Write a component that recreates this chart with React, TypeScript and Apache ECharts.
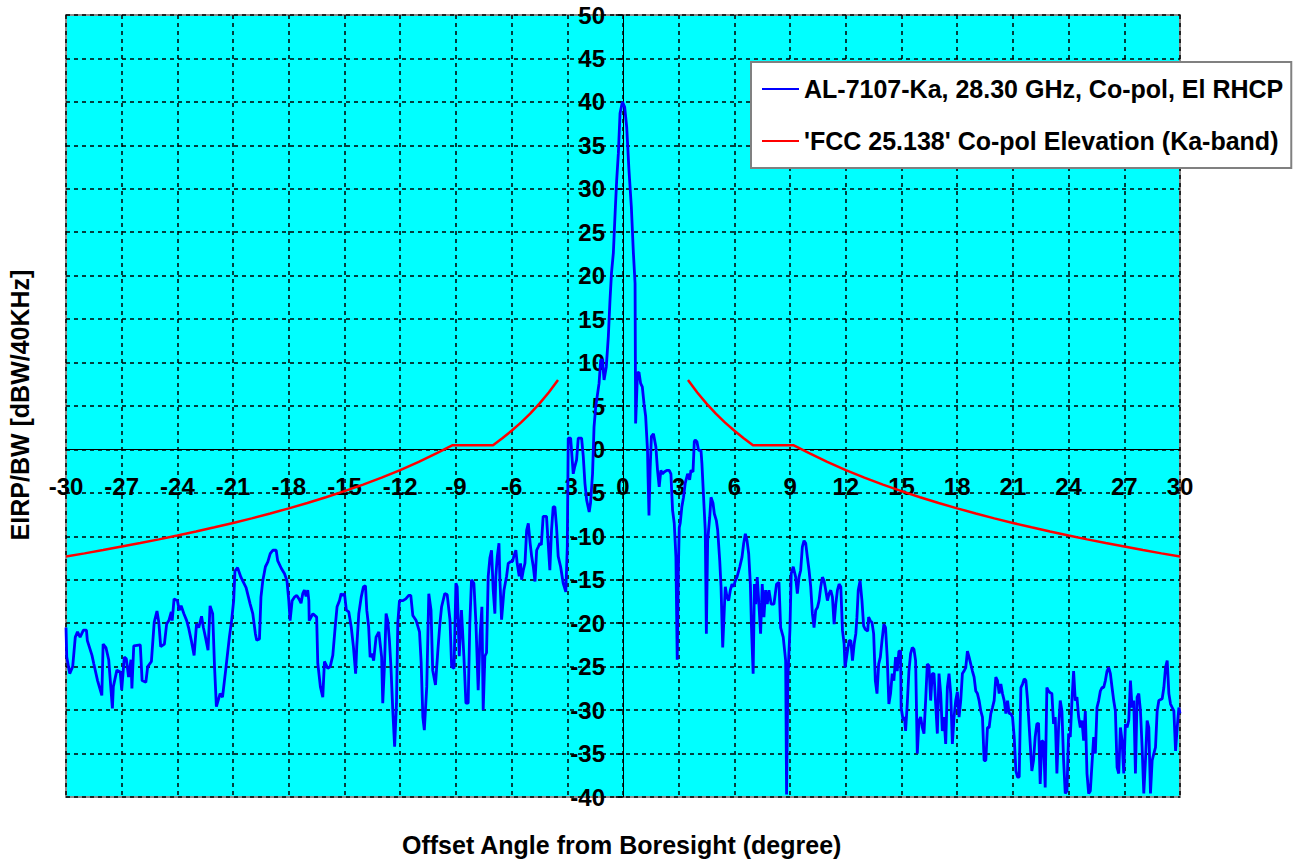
import React, { useEffect, useRef } from "react";
import * as echarts from "echarts";

// ---- Data ----
const xTicks = { min: -30, max: 30, interval: 3 };
const yTicks = { min: -40, max: 50, interval: 5 };

const seriesNames = [
  "AL-7107-Ka, 28.30 GHz, Co-pol, El RHCP",
  "'FCC 25.138' Co-pol Elevation (Ka-band)",
];

// Measured co-pol pattern, left sidelobes (deg, dBW/40kHz)
const leftFarSidelobes: [number, number][] = [
  [-30, -20.5], [-29.96, -23.9], [-29.8, -25.8], [-29.64, -25], [-29.5, -21.6], [-29.38, -21.0], [-29.24, -21.6],
  [-29.06, -20.8], [-28.9, -20.8], [-28.85, -22], [-28.6, -23.7], [-28.5, -24.7], [-28.3, -26.6], [-28.07, -28.3],
  [-28.0, -22.4], [-27.85, -22.8], [-27.7, -24.2], [-27.5, -29.8], [-27.45, -27.3], [-27.26, -25.4], [-27.08, -25.6],
  [-27.0, -27.7], [-26.86, -23.9], [-26.75, -24.1], [-26.63, -26.2], [-26.5, -24.2], [-26.45, -27.5], [-26.35, -22.6],
  [-26.0, -22.5], [-25.9, -26.6], [-25.7, -26.8], [-25.6, -25], [-25.4, -24.4], [-25.25, -19.9], [-25.1, -18.6],
  [-25.0, -19.9], [-24.9, -22.7], [-24.7, -22.4], [-24.58, -20.1], [-24.46, -19.7], [-24.33, -18.7], [-24.28, -19.7],
  [-24.18, -17.2], [-24.0, -17.4], [-23.9, -18.5], [-23.8, -18], [-23.65, -18.9], [-23.5, -19.7], [-23.4, -20.5],
  [-23.25, -22], [-23.1, -23.7], [-22.97, -20.1], [-22.85, -20.5], [-22.7, -19.2], [-22.6, -20.5], [-22.47, -21.8],
  [-22.35, -23.1], [-22.24, -18], [-22.1, -18.9], [-22.0, -25], [-21.9, -29.6], [-21.7, -28.1], [-21.57, -28.5],
  [-21.4, -25.4], [-21.2, -21.6], [-21.08, -19.7], [-20.97, -17.4], [-20.9, -14], [-20.76, -13.6], [-20.58, -14.7],
  [-20.3, -15.9], [-20.08, -17.8],
];

const leftMidSidelobes: [number, number][] = [
  [-19.94, -18.9], [-19.8, -21.2], [-19.73, -21.95], [-19.58, -21.8], [-19.5, -17], [-19.4, -15.1], [-19.26, -13.5],
  [-19.13, -12.95], [-19.0, -12], [-18.86, -11.6], [-18.68, -11.6], [-18.6, -12.8], [-18.4, -13.7], [-18.23, -14.3],
  [-18.1, -15.1], [-18.0, -17.4], [-17.93, -19.7], [-17.82, -17.4], [-17.7, -17], [-17.57, -16.8], [-17.45, -17.2],
  [-17.34, -17.7], [-17.25, -16.6], [-17.16, -16.2], [-17.07, -16.9], [-16.98, -16.2], [-16.92, -17.4], [-16.9, -19.7],
  [-16.7, -18.9], [-16.5, -19.3], [-16.44, -24.6], [-16.3, -27.3], [-16.17, -28.5], [-16.08, -24.4], [-15.9, -25.2],
  [-15.77, -25], [-15.63, -23.7], [-15.5, -20.4], [-15.4, -18.1], [-15.27, -17.4], [-15.18, -16.6], [-15.1, -16.8],
  [-15.0, -16.6], [-14.9, -18.5], [-14.77, -18.7], [-14.64, -20.4], [-14.52, -22.7], [-14.4, -25.8], [-14.34, -22.7],
  [-14.23, -18.9], [-14.1, -17], [-13.98, -15.8], [-13.87, -15.7], [-13.8, -18.5], [-13.7, -20.4], [-13.62, -23.9],
  [-13.52, -23.5], [-13.43, -24.3], [-13.3, -21.6], [-13.15, -21], [-13.0, -23.9], [-12.94, -29.2], [-12.85, -25],
  [-12.76, -18.9], [-12.67, -19.7], [-12.58, -22], [-12.5, -25], [-12.4, -30], [-12.3, -34.2], [-12.2, -29.2],
  [-12.13, -20], [-12.04, -17.4], [-11.85, -17.4], [-11.7, -17.2], [-11.54, -16.8], [-11.43, -16.8], [-11.32, -19.1],
  [-11.14, -19.7], [-10.96, -21], [-10.87, -24.6], [-10.78, -30.8], [-10.7, -32.3], [-10.57, -27.3], [-10.46, -16.6],
  [-10.34, -18.5], [-10.25, -25.4], [-10.1, -27.1], [-9.97, -23.1],
];

const leftNearSidelobes: [number, number][] = [
  [-9.86, -20], [-9.77, -18.1], [-9.6, -16.6], [-9.47, -16.7], [-9.32, -19.6], [-9.23, -25], [-9.1, -25.2],
  [-9.0, -15.4], [-8.93, -15.8], [-8.82, -23.8], [-8.7, -18.5], [-8.57, -23.8], [-8.46, -29.2], [-8.34, -29.2],
  [-8.25, -20], [-8.16, -15], [-8.03, -15.4], [-7.92, -20], [-7.8, -27.7], [-7.7, -21.5], [-7.6, -18.1],
  [-7.53, -30], [-7.44, -23.8], [-7.35, -23.4], [-7.26, -14.6], [-7.17, -12.5], [-7.08, -11.6], [-6.99, -16.2],
  [-6.9, -18.9], [-6.85, -14.6], [-6.77, -12.3], [-6.68, -10.8], [-6.63, -15], [-6.54, -19.6], [-6.41, -16.2],
  [-6.27, -14.6], [-6.18, -13.1], [-6.05, -12.9], [-5.95, -12.9], [-5.88, -12.3], [-5.77, -11.6], [-5.7, -13.1],
  [-5.59, -14.6], [-5.52, -13.1], [-5.46, -15], [-5.37, -13.9], [-5.28, -13.1], [-5.19, -9.3], [-5.1, -8.5],
  [-5.0, -10.8], [-4.92, -12.3], [-4.83, -13.5], [-4.74, -15.2], [-4.65, -11.6], [-4.56, -11.2], [-4.48, -10.8],
  [-4.4, -11.0], [-4.3, -7.7], [-4.2, -7.7], [-4.12, -7.7], [-4.03, -10.8], [-3.94, -13.9], [-3.85, -9.3],
  [-3.76, -6.6], [-3.67, -6.6], [-3.58, -8.9], [-3.49, -12.3], [-3.36, -13.5], [-3.22, -15.4], [-3.08, -16.4],
  [-3.0, -11.2], [-2.95, 1.3], [-2.82, 1.3], [-2.68, -2.8], [-2.6, -2], [-2.5, -1.2], [-2.41, 1.3], [-2.23, 1.3],
  [-2.14, -0.8], [-2.05, -3.9], [-1.96, -5.8], [-1.82, -7.2], [-1.75, -6.2], [-1.64, -2.8],
];

const mainLobe: [number, number][] = [
  [-1.56, 2.6], [-1.47, 4.9], [-1.29, 7.6], [-1.2, 10.3], [-1.11, 10.3], [-1.02, 8.0], [-0.9, 9.5], [-0.79, 13],
  [-0.7, 17.2], [-0.62, 20.3], [-0.52, 22.6], [-0.41, 27.9], [-0.34, 31], [-0.25, 34.1], [-0.16, 38.7], [-0.03, 40],
  [0.09, 39.4], [0.2, 37.1], [0.32, 32.2], [0.45, 27.9], [0.56, 22.6], [0.65, 19.1], [0.68, 3.0], [0.78, 8.8],
  [0.86, 8.9], [0.95, 7.6], [1.04, 7.2], [1.13, 5.3], [1.22, 3.8], [1.32, -0.1], [1.35, -3.2], [1.4, -7.6],
  [1.46, -2.4], [1.53, 1.5], [1.64, 1.8], [1.77, 0.3], [1.86, -2.4], [1.95, -4.3], [2.04, -2.4], [2.13, -2.8],
  [2.22, -2.6], [2.36, -2.4], [2.49, -2.4], [2.58, -2.8], [2.67, -7], [2.76, -8.5], [2.85, -12.4], [2.92, -24.2],
  [2.98, -14], [3.03, -9],
];

const rightNearSidelobes: [number, number][] = [
  [3.08, -8.5], [3.17, -6.6], [3.26, -5.5], [3.35, -3.9], [3.48, -2.8], [3.59, -3.5], [3.66, -2.4], [3.77, -2.6],
  [3.84, 0.9], [3.89, 1.1], [3.98, 0.9], [4.07, -0.1], [4.2, -0.1], [4.25, -1.6], [4.34, -5.5], [4.43, -9.3],
  [4.49, -21.2], [4.56, -10.5], [4.67, -7.8], [4.74, -5.5], [4.85, -6.2], [4.92, -7.4], [5.03, -8.2], [5.1, -9.3],
  [5.21, -12.8], [5.28, -15.8], [5.37, -22.8], [5.46, -18.2], [5.51, -15.8], [5.6, -17], [5.69, -17.4], [5.78, -16.2],
  [5.87, -15.5], [5.96, -15.8], [6.05, -15.1], [6.14, -14.7], [6.29, -13.5], [6.41, -12.4], [6.5, -10.8], [6.59, -9.7],
  [6.68, -10.5], [6.77, -12], [6.86, -15.5], [6.92, -20.5], [7.01, -25.8], [7.08, -15.5], [7.15, -17.8], [7.23, -14.7],
  [7.32, -17.8], [7.41, -21.2], [7.5, -15.5], [7.59, -19.3], [7.68, -16.2], [7.77, -17.8], [7.86, -16.2], [7.98, -17.8],
  [8.13, -17.8], [8.27, -15.5], [8.4, -15.3], [8.49, -20.5], [8.63, -21.6], [8.76, -24.3], [8.81, -39.7], [8.88, -26.2],
  [8.99, -20.8], [9.06, -14.3], [9.17, -13.5], [9.3, -14.7], [9.39, -16.6], [9.48, -14.7], [9.57, -13.9], [9.66, -11.2],
  [9.75, -10.5], [9.84, -10.8], [9.93, -12.4], [10.02, -13.9], [10.11, -15.8], [10.2, -18.9], [10.29, -20.5],
  [10.38, -18.5], [10.47, -18.2], [10.56, -17.4], [10.65, -15.8], [10.74, -14.7], [10.83, -15.1], [10.92, -16.2],
  [11.01, -17.4], [11.1, -16.6], [11.19, -16.2], [11.28, -17], [11.37, -20.1], [11.46, -17.8], [11.55, -16.2],
  [11.64, -15.5], [11.73, -15.8], [11.82, -20.8], [11.91, -22.4], [11.96, -25.1], [12.09, -23.2], [12.18, -22],
  [12.27, -22], [12.36, -24.3], [12.45, -22.4], [12.54, -21.2], [12.6, -19.3], [12.67, -16.2], [12.77, -15.1],
];

const rightMidSidelobes: [number, number][] = [
  [12.87, -17.4], [12.96, -20.3], [13.05, -20.7], [13.18, -20.9], [13.23, -19.3], [13.32, -19.7], [13.41, -19.9],
  [13.5, -21.2], [13.59, -26.6], [13.68, -28.1], [13.77, -24.7], [13.86, -23.9], [13.95, -22], [14.05, -20.1],
  [14.14, -20.5], [14.23, -23.9], [14.32, -29.3], [14.41, -28.1], [14.5, -25.8], [14.59, -26.6], [14.68, -23.9],
  [14.77, -25.5], [14.86, -23.2], [14.95, -23.2], [14.98, -29.7], [15.09, -31.2], [15.16, -30.8], [15.22, -32.4],
  [15.31, -29.3], [15.4, -25.5], [15.49, -23.5], [15.58, -22.8], [15.67, -23], [15.76, -24.3], [15.85, -35],
  [15.94, -31.2], [16.03, -30.8], [16.12, -32], [16.21, -32.7], [16.3, -28.9], [16.39, -24.7], [16.48, -24.9],
  [16.57, -28.9], [16.66, -25.8], [16.75, -25.8], [16.84, -29.3], [16.93, -32.7], [17.02, -25.8], [17.11, -28.1],
  [17.2, -32.4], [17.29, -30.8], [17.38, -33.9], [17.47, -27.4], [17.56, -25.8], [17.65, -28.1], [17.74, -33.9],
  [17.83, -30.8], [17.92, -28.9], [18.01, -27.9], [18.1, -30.8], [18.19, -28.9], [18.28, -25.8], [18.37, -25.5],
  [18.46, -25.1], [18.55, -23.2], [18.64, -23.9], [18.73, -24.7], [18.82, -25.5], [18.91, -26.2], [19.0, -27.8],
  [19.09, -28.1], [19.18, -28.9], [19.27, -30.1], [19.36, -30.8], [19.45, -35.8], [19.54, -35.8], [19.63, -32],
  [19.72, -32], [19.81, -30.4], [19.9, -29.7], [19.99, -28.9], [20.08, -26.2], [20.17, -26.6], [20.26, -28.1],
  [20.35, -27], [20.44, -28.1], [20.53, -28.9], [20.62, -30.4], [20.71, -28.9], [20.8, -30.4], [20.89, -30.4],
  [20.98, -30.8], [21.07, -33.1], [21.16, -37], [21.25, -37.7], [21.34, -37.7], [21.43, -27.4], [21.52, -27],
  [21.61, -26.4], [21.7, -26.6], [21.79, -28.9], [21.88, -32],
];

const rightFarSidelobes: [number, number][] = [
  [22.02, -37], [22.11, -35.8], [22.2, -33.1], [22.29, -31.6], [22.38, -31.5], [22.47, -38.5], [22.56, -33.5],
  [22.65, -33.7], [22.74, -38.9], [22.83, -27.4], [22.92, -27.8], [23.01, -28], [23.1, -28.1], [23.19, -31.6],
  [23.28, -30.8], [23.37, -37.3], [23.46, -32], [23.55, -28.9], [23.64, -30.1], [23.73, -35.8], [23.82, -39.6],
  [23.91, -39.3], [24.0, -32.7], [24.09, -33.1], [24.18, -28.9], [24.27, -25.5], [24.36, -28.9], [24.45, -28.5],
  [24.54, -30.8], [24.63, -32], [24.72, -31.2], [24.81, -33.5], [24.9, -30.1], [24.99, -37.3], [25.08, -39.6],
  [25.17, -39.3], [25.26, -36.2], [25.35, -33.1], [25.44, -35], [25.53, -29.7], [25.62, -28.9], [25.71, -27.8],
  [25.8, -27.4], [25.89, -27.4], [25.98, -26.6], [26.07, -25.5], [26.16, -25.1], [26.25, -25.8], [26.34, -27.4],
  [26.43, -28.9], [26.52, -30.1], [26.61, -36.6], [26.7, -37.3], [26.79, -32], [26.88, -33.5], [26.97, -37.3],
  [27.06, -31.6], [27.15, -32], [27.24, -31.2], [27.33, -26.6], [27.42, -29.7], [27.51, -28.9], [27.6, -37.3],
  [27.69, -28.5], [27.78, -28.1], [27.87, -30.1], [27.96, -34.3], [28.05, -39.6], [28.14, -35.8], [28.23, -31.2],
  [28.32, -32], [28.41, -39.6], [28.5, -35.8], [28.59, -35], [28.68, -34.3], [28.77, -30.1], [28.86, -28.9],
  [29.04, -28.7], [29.13, -27.4], [29.22, -25.1], [29.31, -24.3], [29.4, -28.1], [29.49, -29.3], [29.58, -29.7],
  [29.67, -30.1], [29.76, -34.7], [29.85, -32], [29.94, -29.7], [30.0, -30.4],
];

// FCC 25.138 elevation co-pol mask, as drawn (deg, dBW/40kHz)
const maskLeftAngles = [-30, -29, -28, -27, -26, -25, -24, -23, -22, -21, -20, -19, -18, -17, -16, -15, -14, -13, -12, -11, -10, -9.2, -7, -6.5, -6, -5.5, -5, -4.5, -4, -3.5];
const maskLeftValues = [-12.33, -11.96, -11.58, -11.18, -10.77, -10.35, -9.9, -9.44, -8.96, -8.46, -7.93, -7.37, -6.78, -6.16, -5.5, -4.8, -4.05, -3.25, -2.38, -1.44, -0.4, 0.47, 0.47, 1.28, 2.15, 3.09, 4.12, 5.27, 6.55, 8.0];
const maskRightAngles = [3.5, 4, 4.5, 5, 5.5, 6, 6.5, 7, 9.2, 10, 11, 12, 13, 14, 15, 16, 17, 18, 19, 20, 21, 22, 23, 24, 25, 26, 27, 28, 29, 30];
const maskRightValues = [8.0, 6.55, 5.27, 4.12, 3.09, 2.15, 1.28, 0.47, 0.47, -0.4, -1.44, -2.38, -3.25, -4.05, -4.8, -5.5, -6.16, -6.78, -7.37, -7.93, -8.46, -8.96, -9.44, -9.9, -10.35, -10.77, -11.18, -11.58, -11.96, -12.33];

const FONT = "'Liberation Sans', Arial, Helvetica, sans-serif";

// Plot geometry
const GRID_LEFT = 66;
const GRID_TOP = 15;
const GRID_W = 1114;
const GRID_H = 782;

export default function App() {
  const ref = useRef<HTMLDivElement>(null);

  useEffect(() => {
    if (!ref.current) return;
    const chart = echarts.init(ref.current, undefined, { renderer: "svg" });

    const pattern = [
      ...leftFarSidelobes,
      ...leftMidSidelobes,
      ...leftNearSidelobes,
      ...mainLobe,
      ...rightNearSidelobes,
      ...rightMidSidelobes,
      ...rightFarSidelobes,
    ];
    const mask: (number | null)[][] = [
      ...maskLeftAngles.map((a, i) => [a, maskLeftValues[i]]),
      [0, null],
      ...maskRightAngles.map((a, i) => [a, maskRightValues[i]]),
    ];

    // Axes cross at (0, 0): shift the axes (with their labels) to the zero lines
    const xZeroOffset = -(GRID_H * (0 - yTicks.min)) / (yTicks.max - yTicks.min);
    const yZeroOffset = -(GRID_W * (0 - xTicks.min)) / (xTicks.max - xTicks.min);

    const labelStyle = {
      fontFamily: FONT,
      fontWeight: "bold" as const,
      fontSize: 24,
      color: "#000",
    };

    const gridLine = { show: true, lineStyle: { color: "#000", width: 1.5, type: [4, 4] } };

    chart.setOption({
      animation: false,
      backgroundColor: "#ffffff",
      grid: {
        left: GRID_LEFT,
        top: GRID_TOP,
        width: GRID_W,
        height: GRID_H,
        show: true,
        backgroundColor: "#00FFFF",
        borderColor: "#8c8c8c",
        borderWidth: 2,
      },
      legend: {
        orient: "vertical",
        left: 751,
        top: 62,
        backgroundColor: "#ffffff",
        borderColor: "#808080",
        borderWidth: 2,
        padding: [13, 8, 13, 10],
        itemGap: 24,
        itemWidth: 37,
        itemHeight: 14,
        itemStyle: { opacity: 0 },
        textStyle: { ...labelStyle, fontSize: 25, lineHeight: 28 },
        data: seriesNames,
      },
      xAxis: {
        type: "value",
        position: "bottom",
        offset: xZeroOffset,
        min: xTicks.min,
        max: xTicks.max,
        interval: xTicks.interval,
        axisLine: { show: true, onZero: false, lineStyle: { color: "#000", width: 1 } },
        axisTick: { show: false },
        axisLabel: { ...labelStyle, margin: 25, showMinLabel: true, showMaxLabel: true },
        splitLine: gridLine,
      },
      yAxis: {
        type: "value",
        position: "left",
        offset: yZeroOffset,
        min: yTicks.min,
        max: yTicks.max,
        interval: yTicks.interval,
        axisLine: { show: true, onZero: false, lineStyle: { color: "#000", width: 1 } },
        axisTick: { show: true, length: 7, lineStyle: { color: "#000", width: 1.5 } },
        axisLabel: { ...labelStyle, margin: 18, showMinLabel: true, showMaxLabel: true },
        splitLine: gridLine,
      },
      graphic: [
        {
          type: "text",
          left: 402,
          top: 832,
          style: {
            text: "Offset Angle from Boresight (degree)",
            fontFamily: FONT,
            fontWeight: "bold",
            fontSize: 25,
            fill: "#000",
          },
        },
        {
          type: "text",
          x: 20,
          y: 405,
          rotation: Math.PI / 2,
          style: {
            text: "EIRP/BW [dBW/40KHz]",
            fontFamily: FONT,
            fontWeight: "bold",
            fontSize: 25,
            fill: "#000",
            align: "center",
            verticalAlign: "middle",
          },
        },
      ],
      series: [
        {
          name: seriesNames[0],
          type: "line",
          data: pattern,
          symbol: "none",
          showSymbol: false,
          lineStyle: { color: "#0000FF", width: 2.8 },
          itemStyle: { color: "#0000FF" },
          z: 3,
        },
        {
          name: seriesNames[1],
          type: "line",
          data: mask,
          symbol: "none",
          showSymbol: false,
          connectNulls: false,
          lineStyle: { color: "#FF0000", width: 2.5 },
          itemStyle: { color: "#FF0000" },
          z: 4,
        },
      ],
    });

    return () => chart.dispose();
  }, []);

  return (
    <div
      ref={ref}
      style={{ position: "fixed", left: 0, top: 0, width: 1299, height: 863, background: "#fff" }}
    />
  );
}
